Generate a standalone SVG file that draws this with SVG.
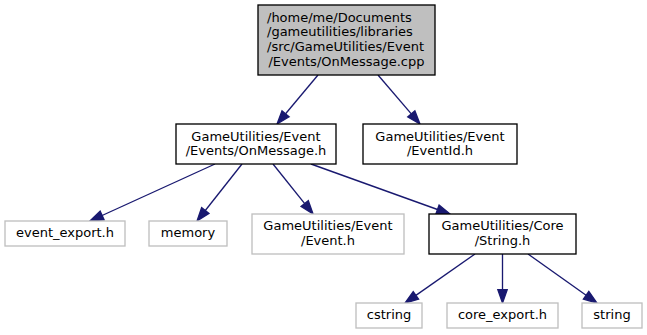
<svg xmlns="http://www.w3.org/2000/svg" width="647" height="335" viewBox="0 0 647 335">
  <style>
    .box { fill: #ffffff; stroke: #000000; stroke-width: 1.33; }
    .root { fill: #bfbfbf; stroke: #000000; stroke-width: 1.33; }
    .ext { fill: #ffffff; stroke: #bfbfbf; stroke-width: 1.33; }
    text { font-family: "DejaVu Sans", sans-serif; font-size: 13px; fill: #000000; }
    .c { text-anchor: middle; }
    .s { text-anchor: start; }
    .edge { fill: none; stroke: #191970; stroke-width: 1.33; marker-end: url(#arrow); }
  </style>
  <defs>
    <marker id="arrow" markerUnits="userSpaceOnUse" viewBox="0 -5 14 10" markerWidth="14" markerHeight="10" refX="0" refY="0" orient="auto" overflow="visible">
      <path d="M0,-4.67 L13.33,0 L0,4.67 Z" fill="#191970" stroke="#191970" stroke-width="1.33"/>
    </marker>
  </defs>
  <rect width="647" height="335" fill="#ffffff"/>

  <!-- include edges -->
  <g id="edges">
    <path class="edge" d="M318,75 L285.6,113.8"/>
    <path class="edge" d="M378,75 L411.3,113.9"/>
    <path class="edge" d="M215,164 L102.1,215.5"/>
    <path class="edge" d="M242,164 L205.3,210.5"/>
    <path class="edge" d="M273,164 L304.7,203.6"/>
    <path class="edge" d="M311,164 L437.5,209.5"/>
    <path class="edge" d="M475,254 L415.9,295.4"/>
    <path class="edge" d="M502.5,254 L502.5,289.7"/>
    <path class="edge" d="M528,254 L586.1,295.3"/>
  </g>

  <g id="node1">
    <rect class="root" x="258" y="5" width="177" height="70"/>
    <text class="s" x="267" y="21.5">/home/me/Documents</text>
    <text class="s" x="267" y="36.2">/gameutilities/libraries</text>
    <text class="s" x="267" y="50.8">/src/GameUtilities/Event</text>
    <text class="c" x="346.5" y="65.5">/Events/OnMessage.cpp</text>
  </g>

  <g id="node2">
    <rect class="box" x="176" y="124" width="160" height="40"/>
    <text class="c" x="256" y="140.5">GameUtilities/Event</text>
    <text class="c" x="256" y="155.2">/Events/OnMessage.h</text>
  </g>

  <g id="node3">
    <rect class="ext" x="5" y="221" width="120" height="25"/>
    <text class="c" x="65" y="237">event_export.h</text>
  </g>

  <g id="node4">
    <rect class="ext" x="149" y="221" width="78" height="25"/>
    <text class="c" x="188" y="237">memory</text>
  </g>

  <g id="node5">
    <rect class="ext" x="252" y="214" width="152" height="40"/>
    <text class="c" x="328" y="230">GameUtilities/Event</text>
    <text class="c" x="328" y="244.7">/Event.h</text>
  </g>

  <g id="node6">
    <rect class="box" x="429" y="214" width="147" height="40"/>
    <text class="c" x="502.5" y="230">GameUtilities/Core</text>
    <text class="c" x="502.5" y="244.7">/String.h</text>
  </g>

  <g id="node7">
    <rect class="ext" x="356" y="303" width="66" height="25"/>
    <text class="c" x="389" y="319">cstring</text>
  </g>

  <g id="node8">
    <rect class="ext" x="447" y="303" width="111" height="25"/>
    <text class="c" x="502.5" y="319">core_export.h</text>
  </g>

  <g id="node9">
    <rect class="ext" x="582" y="303" width="60" height="25"/>
    <text class="c" x="612" y="319">string</text>
  </g>

  <g id="node10">
    <rect class="box" x="363" y="124" width="154" height="40"/>
    <text class="c" x="440" y="140.5">GameUtilities/Event</text>
    <text class="c" x="440" y="155.2">/EventId.h</text>
  </g>
</svg>
